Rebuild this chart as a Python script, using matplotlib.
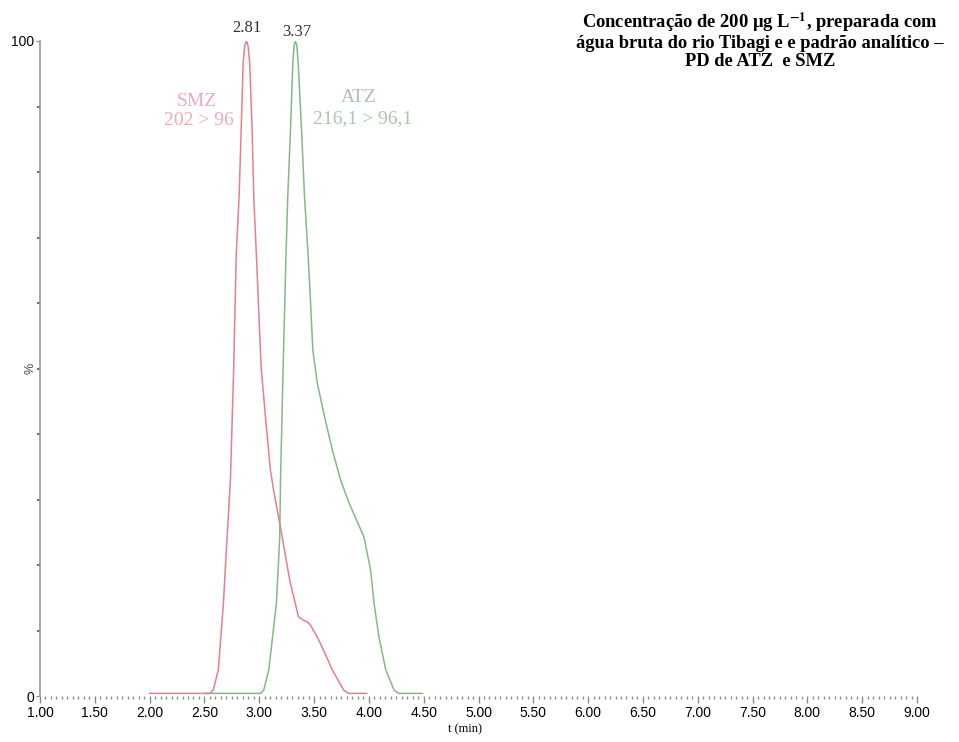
import matplotlib
matplotlib.use("Agg")
import matplotlib.pyplot as plt
from matplotlib.ticker import MultipleLocator

# SMZ trace (202 > 96)
smz_t = [2.00, 2.55, 2.58, 2.627, 2.673, 2.707, 2.737, 2.767, 2.79, 2.816, 2.835, 2.853,
         2.868, 2.883, 2.898, 2.913, 2.935, 2.95, 2.974, 3.017, 3.06, 3.102, 3.13, 3.209,
         3.28, 3.358, 3.40, 3.44, 3.468, 3.529, 3.60, 3.666, 3.77, 3.815, 3.98]
smz_y = [0.4, 0.4, 0.9, 4.0, 14.2, 24.3, 33.0, 50.2, 67.3, 76.2, 86.4, 96.6,
         99.3, 100.0, 99.3, 96.6, 86.4, 76.2, 67.3, 50.2, 42.0, 34.5, 31.5, 24.3,
         17.5, 12.1, 11.6, 11.3, 10.8, 9.0, 6.5, 4.0, 0.9, 0.4, 0.4]

# ATZ trace (216,1 > 96,1)
atz_t = [2.50, 3.011, 3.041, 3.087, 3.157, 3.187, 3.194, 3.218, 3.244, 3.26, 3.285, 3.306,
         3.318, 3.331, 3.343, 3.355, 3.386, 3.413, 3.443, 3.459, 3.474, 3.489, 3.529, 3.596,
         3.666, 3.742, 3.818, 3.955, 4.016, 4.047, 4.092, 4.154, 4.23, 4.272, 4.49]
atz_y = [0.4, 0.4, 0.9, 4.0, 14.2, 24.3, 33.0, 50.2, 67.3, 76.2, 86.4, 96.6,
         99.3, 100.0, 99.3, 96.6, 86.4, 76.2, 68.1, 63.1, 57.9, 52.8, 47.8, 42.6,
         37.6, 33.0, 29.5, 24.3, 19.2, 14.2, 9.0, 4.0, 0.9, 0.4, 0.4]

peak_labels = ["2.81", "3.37"]
x_major = [1.0 + 0.5 * i for i in range(17)]

serif = ["Liberation Serif", "DejaVu Serif"]
plt.rcParams["font.family"] = ["Liberation Sans", "DejaVu Sans"]
plt.rcParams["mathtext.fontset"] = "stix"

fig = plt.figure(figsize=(9.59, 7.42), dpi=100)
ax = fig.add_axes([40 / 959, 46 / 742, 877 / 959, 655 / 742])

ax.plot(atz_t, atz_y, color="#86b886", lw=1.1)
ax.plot(smz_t, smz_y, color="#e57f8a", lw=1.1)

ax.set_xlim(1.0, 9.0)
ax.set_ylim(0, 100)

for s in ["top", "right", "bottom"]:
    ax.spines[s].set_visible(False)
ax.spines["left"].set_color("#9a9a9a")
ax.spines["left"].set_linewidth(1.2)

ax.set_xticks(x_major)
ax.set_xticklabels([f"{v:.2f}" for v in x_major], fontsize=10)
ax.xaxis.set_minor_locator(MultipleLocator(0.05))
ax.tick_params(axis="x", which="major", length=5, color="#8a8a8a", width=1, pad=2)
ax.tick_params(axis="x", which="minor", length=2.5, color="#8a8a8a", width=1)

ax.set_yticks([0, 100])
ax.set_yticklabels(["0", "100"], fontsize=10)
ax.yaxis.set_minor_locator(MultipleLocator(10))
ax.tick_params(axis="y", which="major", length=3, color="#8a8a8a", pad=1)
ax.tick_params(axis="y", which="minor", length=2, color="#555555", width=1.2)

ax.set_xlabel("t (min)", fontsize=9, family=serif)
ax.xaxis.set_label_coords(425 / 877, -27 / 655)
ax.set_ylabel("%", fontsize=9, color="#444444")
ax.yaxis.set_label_coords(-3 / 877, 0.5)

# peak retention time labels
ax.text(2.885, 100.7, peak_labels[0], ha="center", va="bottom", fontsize=12,
        family=serif, color="#333333")
ax.text(3.34, 100.2, peak_labels[1], ha="center", va="bottom", fontsize=12,
        family=serif, color="#333333")

# transition labels
ax.text(2.435, 90.8, "SMZ", ha="center", va="center", fontsize=14, family=serif, color="#f0aab2")
ax.text(2.445, 87.8, "202 > 96", ha="center", va="center", fontsize=14, family=serif, color="#f0aab2")
ax.text(3.91, 91.3, "ATZ", ha="center", va="center", fontsize=14, family=serif, color="#a9c6a9")
ax.text(3.94, 88.1, "216,1 > 96,1", ha="center", va="center", fontsize=14, family=serif, color="#a9c6a9")

fig.text(760 / 959, 1 - 10 / 742,
         "Concentração de 200 µg L$^{\\mathbf{-1}}$, preparada com\n"
         "água bruta do rio Tibagi e e padrão analítico –\nPD de ATZ  e SMZ",
         ha="center", va="top", fontsize=13.3, fontweight="bold", family=serif,
         linespacing=1.08)

fig.savefig("out.png", dpi=100)
